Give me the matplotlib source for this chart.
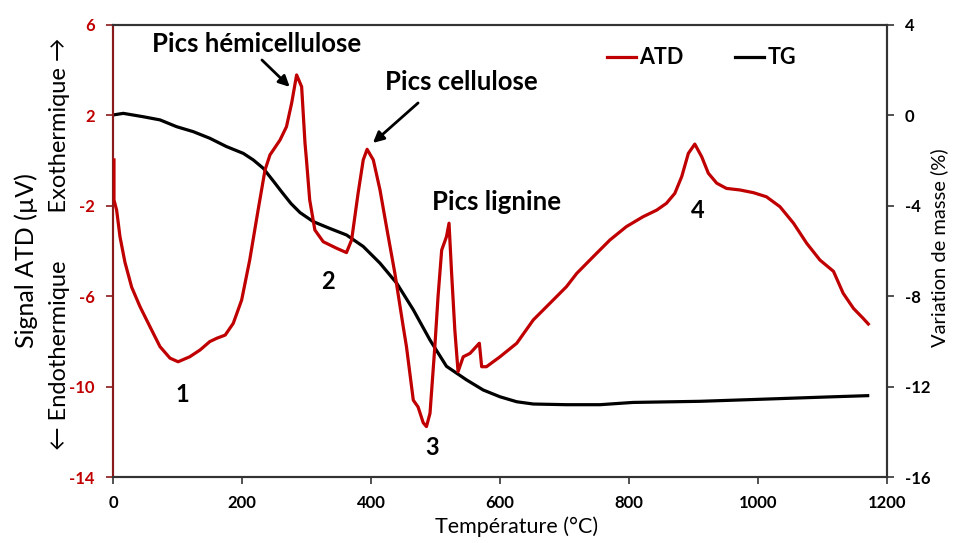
import matplotlib
matplotlib.use('Agg')
import matplotlib.pyplot as plt

plt.rcParams['font.family'] = ['Lato', 'DejaVu Sans']
plt.rcParams['axes.unicode_minus'] = False

RED = '#C00000'
DARK_RED = '#8B1A1A'

# Signal ATD (µV) en fonction de la température (°C)
atd_temp = [1.6, 1.6, 5.7, 10.9, 18.6, 29, 41.9, 57.4, 72.9, 88.4, 101, 119, 135, 150, 161, 174,
            186.5, 199.5, 212, 225, 235.7, 243.4, 259, 269, 277, 284.7, 292.5, 297.7, 300, 305, 313,
            326, 346.8, 362, 370, 380, 388, 394, 403.6, 414, 424, 437, 450, 455, 465.6, 473, 481,
            486, 491.5, 499, 504, 509.6, 517, 521, 525, 530, 535, 543, 553.5, 568, 571.6, 579, 600,
            626, 651.6, 677.5, 703, 719, 744.6, 770.5, 796, 822, 843, 858, 871, 881.7, 892, 902,
            912.7, 923, 936, 951, 972, 993, 1013, 1034, 1055, 1075.5, 1096, 1117, 1132, 1148, 1163,
            1171]
atd_val = [0.03, -1.74, -2.19, -3.37, -4.5, -5.6, -6.46, -7.35, -8.23, -8.74, -8.9, -8.68, -8.38,
           -8.01, -7.86, -7.72, -7.2, -6.17, -4.4, -2.19, -0.42, 0.25, 0.91, 1.5, 2.54, 3.79, 3.27,
           0.78, 0.03, -1.74, -3.07, -3.59, -3.88, -4.07, -3.51, -1.45, 0.03, 0.5, 0.03, -1.3,
           -2.92, -4.98, -7.35, -8.23, -10.6, -10.9, -11.6, -11.77, -11.18, -8.23, -6.0, -3.96,
           -3.37, -2.77, -4.99, -7.5, -9.34, -8.68, -8.53, -8.08, -9.12, -9.12, -8.68, -8.08,
           -7.05, -6.31, -5.58, -4.99, -4.25, -3.51, -2.92, -2.48, -2.19, -1.89, -1.45, -0.71,
           0.32, 0.73, 0.17, -0.56, -1.0, -1.23, -1.3, -1.42, -1.6, -2.04, -2.77, -3.66, -4.4,
           -4.9, -5.87, -6.54, -6.98, -7.23]

# Variation de masse TG (%)
tg_temp = [0.5, 16, 47, 73, 98.7, 124.5, 150, 176, 202, 217.5, 233, 248.5, 262, 276, 290, 310.5,
           336, 362, 388, 414, 440, 465.6, 491.5, 517, 548, 574, 600, 626, 651.6, 703, 755, 806,
           910, 1014, 1116, 1170]
tg_val = [0.02, 0.09, -0.06, -0.2, -0.5, -0.72, -1.01, -1.38, -1.68, -1.97, -2.34, -2.9, -3.4,
          -3.9, -4.3, -4.7, -5.0, -5.29, -5.8, -6.54, -7.43, -8.6, -9.94, -11.1, -11.7, -12.15,
          -12.45, -12.67, -12.77, -12.8, -12.8, -12.7, -12.65, -12.55, -12.45, -12.4]

left_ticks = [-14, -10, -6, -2, 2, 6]
right_ticks = [-16, -12, -8, -4, 0, 4]
x_ticks = [0, 200, 400, 600, 800, 1000, 1200]

fig = plt.figure(figsize=(9.54, 5.43), dpi=100)
ax = fig.add_axes([0.1184, 0.1215, 0.8114, 0.8325])
ax2 = ax.twinx()

l1, = ax.plot(atd_temp, atd_val, color=RED, lw=2.3, label='ATD', zorder=3,
              solid_joinstyle='round')
l2, = ax2.plot(tg_temp, tg_val, color='black', lw=2.3, label='TG', solid_joinstyle='round')
ax.set_zorder(ax2.get_zorder() + 1)
ax.patch.set_visible(False)

ax.set_xlim(0, 1200)
ax.set_ylim(-14, 6)
ax2.set_ylim(-16, 4)
ax.set_xticks(x_ticks)
ax.set_yticks(left_ticks)
ax2.set_yticks(right_ticks)

for a in (ax, ax2):
    for s in a.spines.values():
        s.set_linewidth(1.5)
        s.set_color('#333333')
    a.spines['left'].set_color(DARK_RED)

ax.tick_params(axis='x', labelsize=12, length=5, width=1.2, pad=8, colors='#333333',
               labelcolor='black')
ax.tick_params(axis='y', labelsize=12, length=5, width=1.2, pad=8, colors=DARK_RED,
               labelcolor=RED)
ax2.tick_params(axis='y', labelsize=12, length=5, width=1.2, pad=8, colors='#333333',
                labelcolor='black')
for lab in ax.get_xticklabels() + ax.get_yticklabels() + ax2.get_yticklabels():
    lab.set_fontweight('bold')

# titres des axes
fig.text(0.541, 0.03, 'Température (°C)', fontsize=15.5, ha='center', va='center')
fig.text(0.984, 0.543, 'Variation de masse (%)', rotation=90, fontsize=14.5,
         ha='center', va='center')
fig.text(0.027, 0.521, 'Signal ATD (µV)', rotation=90, fontsize=18, ha='center', va='center')
fig.text(0.062, 0.551, '\u2190 Endothermique        Exothermique \u2192', rotation=90,
         fontsize=17, ha='center', va='center')

# annotations des pics
arrow = dict(arrowstyle='-|>', color='black', lw=2, shrinkA=0, shrinkB=0, mutation_scale=16)
ax.annotate('', xy=(274, 3.26), xytext=(231, 4.45), arrowprops=arrow)
ax.annotate('', xy=(403, 0.78), xytext=(473, 2.55), arrowprops=arrow)
ax.text(223, 5.16, 'Pics hémicellulose', fontsize=18.5, fontweight='bold', ha='center', va='center')
ax.text(540, 3.48, 'Pics cellulose', fontsize=18.5, fontweight='bold', ha='center', va='center')
ax.text(594, -1.83, 'Pics lignine', fontsize=18.5, fontweight='bold', ha='center', va='center')

for txt, tx, ty in [('1', 107, -10.37), ('2', 333, -5.37), ('3', 495, -12.7), ('4', 907, -2.19)]:
    ax.text(tx, ty, txt, fontsize=17, fontweight='bold', ha='center', va='center')

ax.legend(handles=[l1, l2], loc='center left', bbox_to_anchor=(0.638, 0.927), ncol=2,
          frameon=False, prop={'weight': 'bold', 'size': 15.5}, handlelength=1.35,
          handletextpad=0.15, columnspacing=2.4, borderpad=0, borderaxespad=0)

fig.savefig('out.png', dpi=100)
